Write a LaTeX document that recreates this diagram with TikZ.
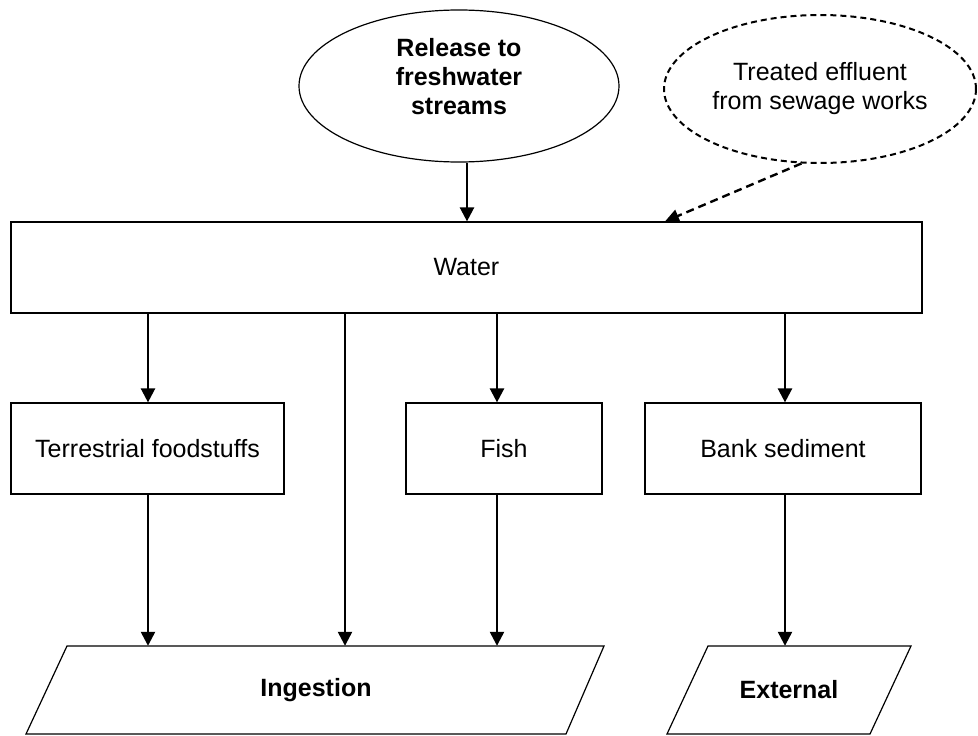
\documentclass[tikz,border=0pt]{standalone}
\usepackage{fontspec}
\setmainfont{Liberation Sans}
\usetikzlibrary{shapes.geometric,arrows.meta}
\begin{document}
\begin{tikzpicture}[x=1pt,y=-1pt,
  every node/.style={font=\fontsize{25}{29}\selectfont, align=center, inner sep=0pt},
  boxn/.style={draw, line width=1.2pt, rectangle, minimum height=91pt},
  arr/.style={line width=2.4pt, -{Triangle[length=14pt,width=14pt]}},
  darr/.style={line width=2.4pt, dash pattern=on 8pt off 5pt, -{Triangle[length=14pt,width=13pt]}},
  shp/.style={draw, line width=1.2pt}]
\useasboundingbox (0,0) rectangle (978,736);
\fill[white] (0,0) rectangle (978,736);

\node[shp, ellipse, minimum width=320pt, minimum height=152pt, text depth=20pt, font=\fontsize{25}{29}\selectfont\bfseries] (rel) at (459,86) {Release to\\freshwater\\streams};
\node[ellipse, draw, line width=2pt, dash pattern=on 6pt off 4pt, minimum width=312pt, minimum height=148pt] (eff) at (820,89) {Treated effluent\\from sewage works};

\node[boxn, minimum width=911pt] (water) at (466.4,267.5) {Water};
\node[boxn, minimum width=273pt] (terr) at (147.5,448.5) {Terrestrial foodstuffs};
\node[boxn, minimum width=196pt] (fish) at (504,448.5) {Fish};
\node[boxn, minimum width=276pt] (bank) at (783,448.5) {Bank sediment};

\node[minimum width=537pt, minimum height=88pt, font=\fontsize{25}{29}\selectfont\bfseries] (ing) at (316,690) {Ingestion};
\node[minimum width=203pt, minimum height=88pt, font=\fontsize{25}{29}\selectfont\bfseries] (ext) at (789,690) {External};
\draw[shp, line join=miter] (67,646) -- (604,646) -- (566,734) -- (26,734) -- cycle;
\draw[shp, line join=miter] (708,646) -- (911,646) -- (870,734) -- (667,734) -- cycle;

\coordinate (xw) at (467,0);
\coordinate (xt) at (148,0);
\coordinate (xm) at (345,0);
\coordinate (xf) at (497,0);
\coordinate (xb) at (785,0);
\coordinate (xe) at (665,0);

\draw[arr] (rel.south -| xw) -- (water.north -| xw);
\draw[darr] (eff.256) -- (water.north -| xe);

\draw[arr] (water.south -| xt) -- (terr.north -| xt);
\draw[arr] (water.south -| xm) -- (ing.north -| xm);
\draw[arr] (water.south -| xf) -- (fish.north -| xf);
\draw[arr] (water.south -| xb) -- (bank.north -| xb);

\draw[arr] (terr.south -| xt) -- (ing.north -| xt);
\draw[arr] (fish.south -| xf) -- (ing.north -| xf);
\draw[arr] (bank.south -| xb) -- (ext.north -| xb);
\end{tikzpicture}
\end{document}
